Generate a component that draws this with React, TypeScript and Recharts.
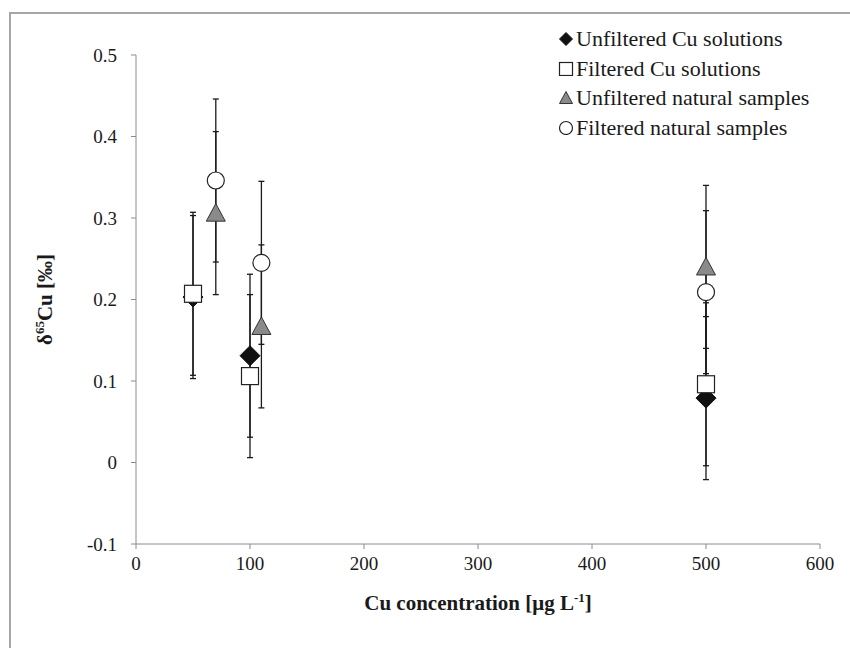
import React from 'react'
import { ScatterChart, Scatter, XAxis, YAxis, ErrorBar } from 'recharts'

const unfCuX = [50, 100, 500]
const unfCuY = [0.203, 0.131, 0.079]
const unfCuErr = [0.1, 0.1, 0.1]

const filCuX = [50, 100, 500]
const filCuY = [0.207, 0.106, 0.096]
const filCuErr = [0.1, 0.1, 0.1]

const unfNatX = [70, 110, 500]
const unfNatY = [0.306, 0.167, 0.24]
const unfNatErr = [0.1, 0.1, 0.1]

const filNatX = [70, 110, 500]
const filNatY = [0.346, 0.245, 0.209]
const filNatErr = [0.1, 0.1, 0.1]

const xTicks = [0, 100, 200, 300, 400, 500, 600]
const yTicks = [-0.1, 0, 0.1, 0.2, 0.3, 0.4, 0.5]

const seriesNames = [
  'Unfiltered Cu solutions',
  'Filtered Cu solutions',
  'Unfiltered natural samples',
  'Filtered natural samples',
]

const toRows = (xs: number[], ys: number[], errs: number[]) =>
  xs.map((x, i) => ({ x, y: ys[i], err: errs[i] }))

const FONT = 'Liberation Serif'
const INK = '#1a1a1a'
const AXIS = '#8c8c8c'

type Kind = 'diamond' | 'square' | 'triangle' | 'circle'

function marker(kind: Kind, cx: number, cy: number, s: number) {
  const h = s / 2
  if (kind === 'diamond')
    return <path d={`M${cx},${cy - h}L${cx + h},${cy}L${cx},${cy + h}L${cx - h},${cy}Z`} fill="#111" stroke="#111" />
  if (kind === 'square')
    return <rect x={cx - h} y={cy - h} width={s} height={s} fill="#fff" stroke="#222" strokeWidth={1.2} />
  if (kind === 'triangle')
    return (
      <path
        d={`M${cx},${cy - h}L${cx + h},${cy + h * 0.85}L${cx - h},${cy + h * 0.85}Z`}
        fill="#8a8a8a"
        stroke="#333"
        strokeWidth={1}
      />
    )
  return <circle cx={cx} cy={cy} r={h} fill="#fff" stroke="#222" strokeWidth={1.2} />
}

const shapeOf = (kind: Kind, s: number) => (p: any) => <g>{marker(kind, p.cx, p.cy, s)}</g>

const kinds: Kind[] = ['diamond', 'square', 'triangle', 'circle']

function LegendBox() {
  return (
    <div
      style={{
        position: 'absolute',
        left: 558,
        top: 24,
        fontFamily: FONT,
        fontSize: 22,
        color: INK,
        lineHeight: '29.5px',
        whiteSpace: 'nowrap',
      }}
    >
      {seriesNames.map((n, i) => (
        <div key={n} style={{ display: 'flex', alignItems: 'center' }}>
          <svg width={16} height={15} style={{ marginRight: 2 }}>
            {marker(kinds[i], 8, 8, 13)}
          </svg>
          <span>{n}</span>
        </div>
      ))}
    </div>
  )
}

export default function App() {
  return (
    <div
      style={{
        position: 'fixed',
        left: 0,
        top: 0,
        width: 850,
        height: 648,
        overflow: 'hidden',
        background: '#fff',
        fontFamily: FONT,
      }}
    >
      <div
        style={{
          position: 'absolute',
          left: 9,
          top: 12,
          width: 900,
          height: 700,
          borderLeft: '2px solid #a6a6a6',
          borderTop: '2px solid #a6a6a6',
        }}
      />
      <div style={{ position: 'absolute', left: 0, top: 0 }}>
        <ScatterChart
          width={850}
          height={648}
          margin={{ top: 55, right: 30, left: 0, bottom: 0 }}
          style={{ fontFamily: FONT }}
        >
          <XAxis
            type="number"
            dataKey="x"
            domain={[0, 600]}
            ticks={xTicks}
            height={104}
            stroke={AXIS}
            tickSize={5}
            tick={{ fill: INK, fontSize: 19, fontFamily: FONT, dy: 6 }}
            label={(props: any) => {
              const vb = props.viewBox
              const cx = vb.x + vb.width / 2
              return (
                <text
                  x={cx}
                  y={610}
                  textAnchor="middle"
                  fontFamily={FONT}
                  fontWeight="bold"
                  fontSize={21}
                  fill={INK}
                >
                  Cu concentration [μg L
                  <tspan dy={-8} fontSize={13}>-1</tspan>
                  <tspan dy={8}>]</tspan>
                </text>
              )
            }}
          />
          <YAxis
            type="number"
            dataKey="y"
            domain={[-0.1, 0.5]}
            ticks={yTicks}
            width={136}
            stroke={AXIS}
            tickSize={5}
            tick={{ fill: INK, fontSize: 19, fontFamily: FONT, dx: -12 }}
            label={(props: any) => {
              const vb = props.viewBox
              const cy = vb.y + vb.height / 2
              return (
                <text
                  x={52}
                  y={cy}
                  transform={`rotate(-90, 52, ${cy})`}
                  textAnchor="middle"
                  fontFamily={FONT}
                  fontWeight="bold"
                  fontSize={21}
                  fill={INK}
                >
                  δ<tspan dy={-8} fontSize={13}>65</tspan>
                  <tspan dy={8}>Cu [‰]</tspan>
                </text>
              )
            }}
          />
          <Scatter
            name={seriesNames[0]}
            data={toRows(unfCuX, unfCuY, unfCuErr)}
            shape={shapeOf('diamond', 20)}
            isAnimationActive={false}
          >
            <ErrorBar dataKey="err" direction="y" width={3} stroke={INK} strokeWidth={1.3} />
          </Scatter>
          <Scatter
            name={seriesNames[1]}
            data={toRows(filCuX, filCuY, filCuErr)}
            shape={shapeOf('square', 17)}
            isAnimationActive={false}
          >
            <ErrorBar dataKey="err" direction="y" width={3} stroke={INK} strokeWidth={1.3} />
          </Scatter>
          <Scatter
            name={seriesNames[2]}
            data={toRows(unfNatX, unfNatY, unfNatErr)}
            shape={shapeOf('triangle', 19)}
            isAnimationActive={false}
          >
            <ErrorBar dataKey="err" direction="y" width={3} stroke={INK} strokeWidth={1.3} />
          </Scatter>
          <Scatter
            name={seriesNames[3]}
            data={toRows(filNatX, filNatY, filNatErr)}
            shape={shapeOf('circle', 17)}
            isAnimationActive={false}
          >
            <ErrorBar dataKey="err" direction="y" width={3} stroke={INK} strokeWidth={1.3} />
          </Scatter>
        </ScatterChart>
      </div>
      <LegendBox />
    </div>
  )
}
